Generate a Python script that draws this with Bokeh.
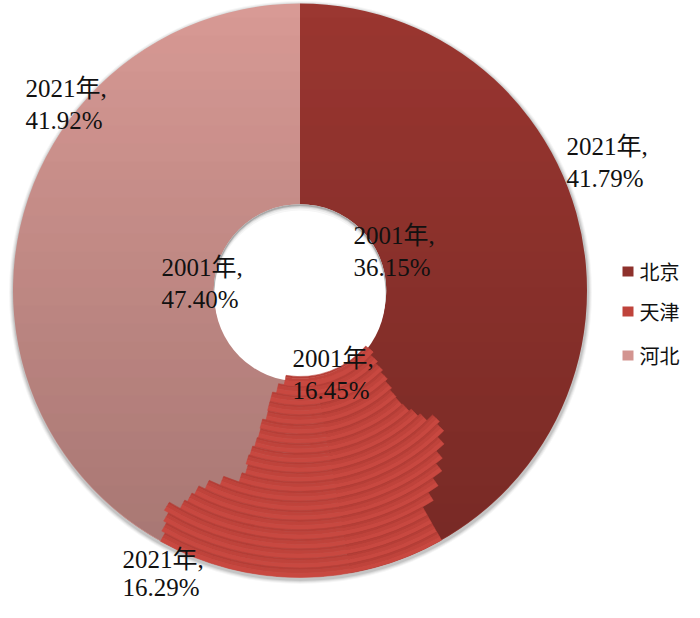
import math
from bokeh.plotting import figure
from bokeh.models import Range1d, ColumnDataSource
from bokeh.embed import file_html
from bokeh.resources import INLINE
from bokeh.core.properties import value

# ---------------- data (shares in %, one ring per year, inner = 2001) ----------------
years = [2001, 2002, 2003, 2004, 2005, 2006, 2007, 2008, 2009, 2010, 2011,
         2012, 2013, 2014, 2015, 2016, 2017, 2018, 2019, 2020, 2021]
beijing = [36.15, 36.8, 37.2, 37.6, 38.0, 38.3, 38.4, 38.3, 38.0, 37.7, 37.0,
           37.3, 38.0, 38.8, 39.4, 40.2, 41.0, 41.8, 41.8, 41.8, 41.79]
tianjin = [16.45, 16.8, 17.0, 16.6, 16.1, 16.2, 16.0, 16.2, 16.7, 17.1, 17.6,
           17.6, 18.2, 18.3, 18.2, 17.6, 17.0, 17.0, 16.7, 16.5, 16.29]
hebei = [47.40, 46.4, 45.8, 45.8, 45.9, 45.5, 45.6, 45.5, 45.3, 45.2, 45.4,
         45.1, 43.8, 42.9, 42.4, 42.2, 42.0, 41.2, 41.5, 41.7, 41.92]
series_names = ["北京", "天津", "河北"]

# ---------------- figure (1 data unit = 1 px, y measured from top via Y()) ----------------
W, H = 684, 602
p = figure(width=W, height=H, x_range=Range1d(0, W), y_range=Range1d(0, H),
           output_backend="svg", toolbar_location=None, min_border=0)
p.axis.visible = False
p.grid.visible = False
p.outline_line_color = None
p.background_fill_color = "white"
p.border_fill_color = "white"


def Y(py):
    return H - py


CX, CY = 299.5, 290.0
R_OUT, R_IN = 287.0, 86.0
n = len(years)
dr = (R_OUT - R_IN) / n

# ---------------- soft drop shadow ----------------
for dd, a in [(4.5, 0.035), (3.5, 0.05), (2.5, 0.07), (1.5, 0.09)]:
    p.circle(x=[CX + 0.5], y=[Y(CY + 2.0)], radius=R_OUT + dd,
             fill_color="black", fill_alpha=a, line_color=None)

# ---------------- ring slices ----------------
a_bj = []
a_tj = []
for k in range(n):
    tot = beijing[k] + tianjin[k] + hebei[k]
    a_bj.append(beijing[k] / tot * 360.0)
    a_tj.append((beijing[k] + tianjin[k]) / tot * 360.0)
split = (max(a_bj) + min(a_tj)) / 2.0  # lies inside every ring's 天津 slice


def ang(t):
    # degrees clockwise from 12 o'clock -> bokeh radians
    return math.pi / 2 - math.radians(t)


# 北京 and 河北 underneath (each ring's 天津 slice is laid over the split line)
p.annular_wedge(x=[CX], y=[Y(CY)], inner_radius=R_IN, outer_radius=R_OUT,
                start_angle=ang(split), end_angle=ang(0.0), fill_color="#9b3731", line_color=None)
p.annular_wedge(x=[CX], y=[Y(CY)], inner_radius=R_IN, outer_radius=R_OUT,
                start_angle=ang(360.0), end_angle=ang(split), fill_color="#d89a95", line_color=None)

# vertical shading (top light -> bottom dark), clipped to the disc
ql, qr, qt, qb, qa = [], [], [], [], []
y_top, y_bot = CY - R_OUT, CY + R_OUT
yy = int(math.ceil(y_top))
while yy < y_bot:
    far = max(abs(yy - CY), abs(yy + 1 - CY))
    if far < R_OUT:
        w = math.sqrt(R_OUT ** 2 - far ** 2)
        ql.append(CX - w)
        qr.append(CX + w)
        qt.append(Y(yy))
        qb.append(Y(yy + 1))
        qa.append(0.25 * (yy - y_top) / (y_bot - y_top))
    yy += 1
p.quad(left=ql, right=qr, top=qt, bottom=qb, fill_color="black", fill_alpha=qa, line_color=None)

# 天津: one slice per ring, each with its own soft band shading
tj = dict(x=[], y=[], rin=[], rout=[], sa=[], ea=[], c=[])
tj_bands = [(0.0, 0.2, "#b53e37"), (0.2, 0.55, "#bf433b"), (0.55, 1.0, "#c84840")]
for k in range(n):
    r0 = R_IN + k * dr
    for b0, b1, col in tj_bands:
        tj["x"].append(CX)
        tj["y"].append(Y(CY))
        tj["rin"].append(r0 + b0 * dr)
        tj["rout"].append(r0 + b1 * dr)
        tj["sa"].append(ang(a_tj[k]))
        tj["ea"].append(ang(a_bj[k]))
        tj["c"].append(col)
tj_src = ColumnDataSource(tj)
p.annular_wedge(x="x", y="y", inner_radius="rin", outer_radius="rout",
                start_angle="sa", end_angle="ea", fill_color="c",
                line_color="c", line_width=0.5, source=tj_src)

# ---------------- hole with inner shadow ----------------
p.circle(x=[CX], y=[Y(CY)], radius=R_IN + 0.3, fill_color="white", line_color=None)
p.circle(x=[CX], y=[Y(CY)], radius=R_IN + 0.3, fill_color="#8c8c8c", fill_alpha=0.75, line_color=None)
for d, a in [(1.0, 0.45), (2.2, 0.5), (3.6, 0.6), (5.5, 1.0)]:
    p.circle(x=[CX], y=[Y(CY + d)], radius=R_IN - 0.5, fill_color="white", fill_alpha=a,
             line_color=None)
# the white discs reach below the hole: repaint the first ring's 天津 slice
p.annular_wedge(x="x", y="y", inner_radius="rin", outer_radius="rout",
                start_angle="sa", end_angle="ea", fill_color="c",
                line_color="c", line_width=0.5,
                source=ColumnDataSource({kk: vv[:3] for kk, vv in tj.items()}))

# ---------------- data labels ----------------
lab_x = [353, 292, 161, 566, 122, 25]
lab_y1 = [235, 358, 267, 146, 559, 88]
lab_y2 = [267, 390, 299, 178, 587, 120]
lab_year = ["2001年,", "2001年,", "2001年,", "2021年,", "2021年,", "2021年,"]
lab_val = ["%.2f%%" % beijing[0], "%.2f%%" % tianjin[0], "%.2f%%" % hebei[0],
           "%.2f%%" % beijing[-1], "%.2f%%" % tianjin[-1], "%.2f%%" % hebei[-1]]
FONT = value("Liberation Serif, Noto Sans CJK SC")
p.text(x=lab_x, y=[Y(v) for v in lab_y1], text=lab_year, text_font=FONT,
       text_font_size="25px", text_color="#111111", text_baseline="alphabetic", text_align="left")
p.text(x=lab_x, y=[Y(v) for v in lab_y2], text=lab_val, text_font=FONT,
       text_font_size="25px", text_color="#111111", text_baseline="alphabetic", text_align="left")

# ---------------- legend ----------------
leg_y = [271, 311, 355]
leg_cols = ["#8e312c", "#bf433b", "#d39490"]
p.rect(x=[627.5] * 3, y=[Y(v) for v in leg_y], width=11, height=10,
       fill_color=leg_cols, line_color=None)
p.text(x=[639] * 3, y=[Y(v) for v in leg_y], text=series_names,
       text_font=value("Noto Sans CJK SC"), text_font_size="20px", text_color="#111111",
       text_baseline="middle", text_align="left")

open("out.html", "w").write(file_html(p, INLINE))
